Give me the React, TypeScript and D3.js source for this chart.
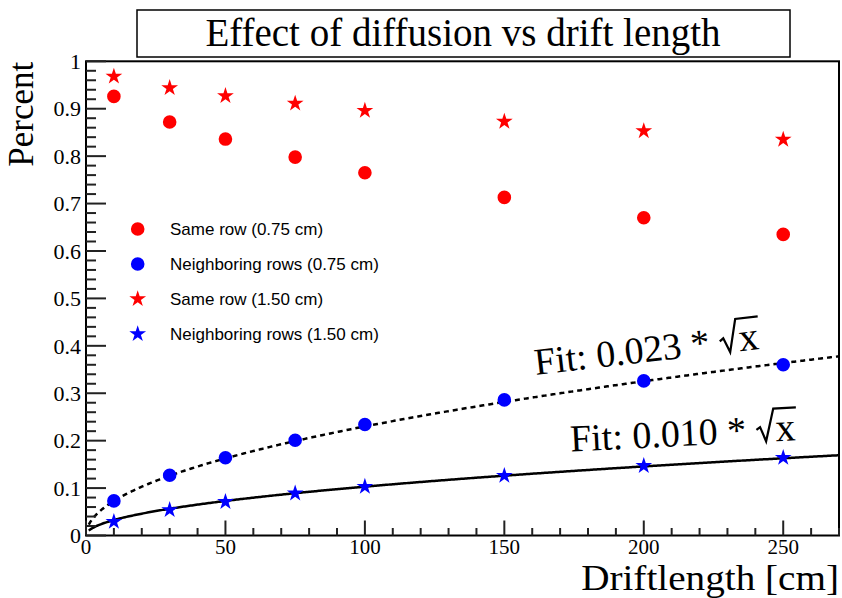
import React from "react";
import * as d3 from "d3";

// Drift lengths (cm) at which the fraction was measured
const driftLengths = [10, 30, 50, 75, 100, 150, 200, 250];

// Fraction of charge collected, per pad configuration
const sameRow075 = [0.926, 0.872, 0.836, 0.798, 0.765, 0.713, 0.670, 0.635];
const neighborRows075 = [0.073, 0.127, 0.164, 0.201, 0.234, 0.286, 0.326, 0.360];
const sameRow150 = [0.968, 0.944, 0.927, 0.911, 0.896, 0.873, 0.853, 0.835];
const neighborRows150 = [0.029, 0.054, 0.071, 0.089, 0.103, 0.126, 0.147, 0.164];

// sqrt(x) fit coefficients for the two neighboring-row series
const fitCoefficients = [0.023, 0.0103];
const fitRange = [1, 270];

const xTicks = [0, 50, 100, 150, 200, 250];
const yTicks = [0, 0.1, 0.2, 0.3, 0.4, 0.5, 0.6, 0.7, 0.8, 0.9, 1];

const legendLabels = [
  "Same row (0.75 cm)",
  "Neighboring rows (0.75 cm)",
  "Same row (1.50 cm)",
  "Neighboring rows (1.50 cm)",
];

const W = 842;
const H = 598;
const frame = { left: 86, right: 839, top: 61.3, bottom: 535.5 };

const serif = "'Liberation Serif', 'Times New Roman', serif";
const sans = "'Liberation Sans', Arial, Helvetica, sans-serif";

const RED = "#ff0000";
const BLUE = "#0000ff";

const x = d3.scaleLinear().domain([0, 270]).range([frame.left, frame.right]);
const y = d3.scaleLinear().domain([0, 1]).range([frame.bottom, frame.top]);

const circlePath = d3.symbol(d3.symbolCircle, Math.PI * 6.8 * 6.8)()!;
const starPath = d3.symbol(d3.symbolStar, (8.8 * 8.8) / 0.8908130915292852)()!;

type Series = { values: number[]; color: string; shape: string };
const series: Series[] = [
  { values: sameRow075, color: RED, shape: circlePath },
  { values: neighborRows075, color: BLUE, shape: circlePath },
  { values: sameRow150, color: RED, shape: starPath },
  { values: neighborRows150, color: BLUE, shape: starPath },
];

function fitPath(k: number) {
  const xs = d3.range(fitRange[0], fitRange[1] + 0.001, 0.5);
  return d3
    .line<number>()
    .x((v) => x(v))
    .y((v) => y(k * Math.sqrt(v)))(xs)!;
}

// Text width in the given font, used to place the hand-drawn radical
let measureCtx: CanvasRenderingContext2D | null = null;
function textWidth(text: string, size: number, family: string) {
  if (!measureCtx) measureCtx = document.createElement("canvas").getContext("2d");
  if (!measureCtx) return text.length * size * 0.5;
  measureCtx.font = `${size}px ${family}`;
  return measureCtx.measureText(text).width;
}

// Fit label anchors (data coordinates) and tilt
const fitLabels = [
  { k: fitCoefficients[0], at: [161.3, 0.3386], angle: -6.6 },
  { k: fitCoefficients[1], at: [173.8, 0.177], angle: -2.9 },
];

function FitLabel({ k, at, angle }: { k: number; at: number[]; angle: number }) {
  const fs = 38;
  const xfs = 40;
  const prefix = `Fit: ${k.toFixed(3)} * `;
  const w0 = textWidth(prefix, fs, "'Liberation Serif'");
  const xw = textWidth("x", xfs, "'Liberation Serif'");
  const r0 = w0 + 0.02 * fs;
  const xStart = r0 + 0.5 * fs;
  const radical = [
    [r0, -0.32 * fs],
    [r0 + 0.1 * fs, -0.39 * fs],
    [r0 + 0.24 * fs, -0.01 * fs],
    [r0 + 0.47 * fs, -0.86 * fs],
    [xStart + xw + 0.04 * fs, -0.86 * fs],
  ];
  return (
    <g transform={`translate(${x(at[0])},${y(at[1])}) rotate(${angle})`}>
      <text x={0} y={0} fontFamily={serif} fontSize={fs} fill="#000">
        {prefix}
      </text>
      <path
        d={d3.line()(radical as [number, number][])!}
        fill="none"
        stroke="#000"
        strokeWidth={2.2}
        strokeLinejoin="miter"
      />
      <text x={xStart} y={0} fontFamily={serif} fontSize={xfs} fill="#000">
        x
      </text>
    </g>
  );
}

export default function App() {
  const yMinor = d3.range(0, 1.0001, 0.02);
  const xMinor = d3.range(0, 270.001, 10);
  return (
    <svg
      width={W}
      height={H}
      viewBox={`0 0 ${W} ${H}`}
      style={{ position: "absolute", left: 0, top: 0, background: "#fff" }}
    >
      <rect x={0} y={0} width={W} height={H} fill="#fff" />

      {/* Title box */}
      <rect x={137} y={10} width={653} height={47} fill="#fff" stroke="#000" strokeWidth={1.5} />
      <text x={463} y={45.5} textAnchor="middle" fontFamily={serif} fontSize={39} fill="#000">
        Effect of diffusion vs drift length
      </text>

      {/* Fit curves */}
      <path d={fitPath(fitCoefficients[0])} fill="none" stroke="#000" strokeWidth={2.5} strokeDasharray="5,4" />
      <path d={fitPath(fitCoefficients[1])} fill="none" stroke="#000" strokeWidth={2.5} />

      {/* Markers */}
      {series.map((s, si) =>
        s.values.map((v, i) => (
          <path
            key={`${si}-${i}`}
            d={s.shape}
            transform={`translate(${x(driftLengths[i])},${y(v)})`}
            fill={s.color}
          />
        ))
      )}

      {/* Frame */}
      <rect
        x={frame.left}
        y={frame.top}
        width={frame.right - frame.left}
        height={frame.bottom - frame.top}
        fill="none"
        stroke="#000"
        strokeWidth={2}
      />

      {/* Y ticks */}
      {yMinor.map((v, i) => {
        const major = i % 5 === 0;
        return (
          <line
            key={`ym${i}`}
            x1={frame.left}
            x2={frame.left + (major ? 20 : 10)}
            y1={y(v)}
            y2={y(v)}
            stroke="#222"
            strokeWidth={2}
          />
        );
      })}
      {yTicks.map((v) => (
        <text
          key={`yl${v}`}
          x={81}
          y={y(v)}
          dy="0.35em"
          textAnchor="end"
          fontFamily={serif}
          fontSize={22}
          fill="#000"
        >
          {d3.format("~g")(v)}
        </text>
      ))}

      {/* X ticks */}
      {xMinor.map((v, i) => {
        const major = i % 5 === 0;
        return (
          <line
            key={`xm${i}`}
            x1={x(v)}
            x2={x(v)}
            y1={frame.bottom}
            y2={frame.bottom - (major ? 15 : 7.5)}
            stroke="#222"
            strokeWidth={2}
          />
        );
      })}
      {xTicks.map((v) => (
        <text
          key={`xl${v}`}
          x={x(v)}
          y={554}
          textAnchor="middle"
          fontFamily={serif}
          fontSize={21}
          fill="#000"
        >
          {v}
        </text>
      ))}

      {/* Axis titles */}
      <text
        transform="translate(839,590) scale(1.12,1)"
        textAnchor="end"
        fontFamily={serif}
        fontSize={35}
        fill="#000"
      >
        Driftlength [cm]
      </text>
      <text
        transform={`translate(33,61.7) rotate(-90)`}
        textAnchor="end"
        fontFamily={serif}
        fontSize={35}
        fill="#000"
      >
        Percent
      </text>

      {/* Legend */}
      {series.map((s, i) => {
        const ly = 229 + i * 35;
        return (
          <g key={`lg${i}`}>
            <path d={s.shape} transform={`translate(137.7,${ly})`} fill={s.color} />
            <text x={170} y={ly + 6} fontFamily={sans} fontSize={17} fill="#000">
              {legendLabels[i]}
            </text>
          </g>
        );
      })}

      {/* Fit annotations */}
      {fitLabels.map((f, i) => (
        <FitLabel key={`fl${i}`} k={f.k} at={f.at} angle={f.angle} />
      ))}
    </svg>
  );
}
